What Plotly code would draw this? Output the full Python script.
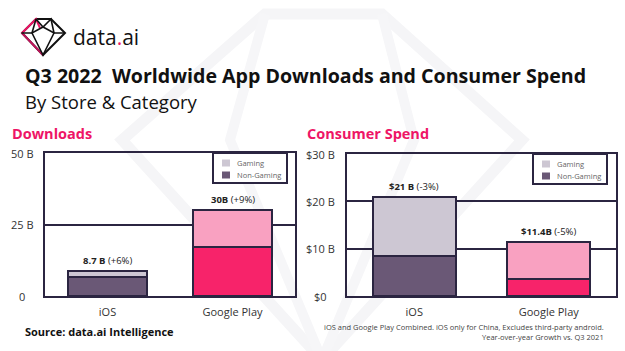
import plotly.graph_objects as go

# ---- data ----
stores = ["iOS", "Google Play"]
dl_non_gaming = [6.7, 17.2]
dl_gaming = [2.0, 12.8]
dl_labels = ["<b>8.7 B</b> (+6%)", "<b>30B</b> (+9%)"]
dl_ticks = [0, 25, 50]
dl_ticktext = ["0", "25 B", "50 B"]

sp_non_gaming = [8.5, 3.5]
sp_gaming = [12.5, 7.9]
sp_labels = ["<b>$21 B</b> (-3%)", "<b>$11.4B</b> (-5%)"]
sp_ticks = [0, 10, 20, 30]
sp_ticktext = ["$0", "$10 B", "$20 B", "$30 B"]

series_names = ["Gaming", "Non-Gaming"]

W, H = 625, 351
def px(x): return x / W
def py(y): return 1 - y / H

NAVY = "#2b2541"
PINK = "#ee1566"
FONT = "Open Sans"
col_ng = ["#6a5876", "#f7236a"]
col_g = ["#cdc7d3", "#f9a1c1"]
legend_cols = [col_g[0], col_ng[0]]

fig = go.Figure()

for xa, ya, ng, g, w in [("x", "y", dl_non_gaming, dl_gaming, 0.63), ("x2", "y2", sp_non_gaming, sp_gaming, 0.62)]:
    fig.add_trace(go.Bar(x=stores, y=ng, name="Non-Gaming", marker=dict(color=col_ng, line=dict(color=NAVY, width=2)),
                         width=w, xaxis=xa, yaxis=ya, showlegend=False, hoverinfo="skip"))
    fig.add_trace(go.Bar(x=stores, y=g, name="Gaming", marker=dict(color=col_g, line=dict(color=NAVY, width=2)),
                         width=w, xaxis=xa, yaxis=ya, showlegend=False, hoverinfo="skip"))

axis_common = dict(showline=True, linecolor=NAVY, linewidth=2, mirror=True, zeroline=False)

annotations = []
for i, s in enumerate(stores):
    annotations.append(dict(x=s, y=dl_non_gaming[i] + dl_gaming[i], xref="x", yref="y", text=dl_labels[i],
                            showarrow=False, yanchor="bottom", yshift=2, font=dict(family=FONT, size=9.5, color="#222")))
    annotations.append(dict(x=s, y=sp_non_gaming[i] + sp_gaming[i], xref="x2", yref="y2", text=sp_labels[i],
                            showarrow=False, yanchor="bottom", yshift=2, font=dict(family=FONT, size=9.5, color="#222")))
for v, t in zip(dl_ticks, dl_ticktext):
    annotations.append(dict(x=px(22), y=v, xref="paper", yref="y", text=t, showarrow=False, xanchor="center",
                            font=dict(family=FONT, size=11, color="#333")))
for v, t in zip(sp_ticks, sp_ticktext):
    annotations.append(dict(x=px(320), y=v, xref="paper", yref="y2", text=t, showarrow=False, xanchor="center",
                            font=dict(family=FONT, size=11, color="#333")))

# titles and texts
annotations += [
    dict(x=px(71), y=py(37), xref="paper", yref="paper", text="data<span style='color:%s'>.</span>ai" % PINK,
         showarrow=False, xanchor="left", yanchor="middle", font=dict(family=FONT, size=21, color="#111")),
    dict(x=px(23), y=py(76), xref="paper", yref="paper", text="<b>Q3 2022  Worldwide App Downloads and Consumer Spend</b>",
         showarrow=False, xanchor="left", yanchor="middle", font=dict(family=FONT, size=19.6, color="#111")),
    dict(x=px(23), y=py(101), xref="paper", yref="paper", text="By Store &amp; Category",
         showarrow=False, xanchor="left", yanchor="middle", font=dict(family=FONT, size=18.5, color="#111")),
    dict(x=px(10), y=py(133), xref="paper", yref="paper", text="<b>Downloads</b>",
         showarrow=False, xanchor="left", yanchor="middle", font=dict(family=FONT, size=14.5, color=PINK)),
    dict(x=px(305), y=py(133), xref="paper", yref="paper", text="<b>Consumer Spend</b>",
         showarrow=False, xanchor="left", yanchor="middle", font=dict(family=FONT, size=14.5, color=PINK)),
    dict(x=px(23), y=py(331), xref="paper", yref="paper", text="<b>Source: data.ai Intelligence</b>",
         showarrow=False, xanchor="left", yanchor="middle", font=dict(family=FONT, size=11, color="#111")),
    dict(x=px(606), y=py(332), xref="paper", yref="paper",
         text="iOS and Google Play Combined. iOS only for China, Excludes third-party android.<br>Year-over-year Growth vs. Q3 2021",
         showarrow=False, xanchor="right", yanchor="middle", align="right",
         font=dict(family=FONT, size=7.5, color="#444")),
]

def P(pts):
    return "M " + " L ".join("%f,%f" % (px(x), py(y)) for x, y in pts)

shapes = [
    # faint watermark gem
    dict(type="path", xref="paper", yref="paper", layer="below",
         path=P([(265, 14), (382, 14), (522, 140), (322, 360), (122, 140)]) + " Z",
         line=dict(color="#f5f5f7", width=11)),
    dict(type="path", xref="paper", yref="paper", layer="below",
         path=P([(265, 14), (230, 140), (322, 360), (414, 140), (382, 14)]), line=dict(color="#f6f6f8", width=10)),
    # logo gem
    dict(type="path", xref="paper", yref="paper",
         path=P([(36, 19), (51, 19), (65, 33), (43, 55), (22, 33)]) + " Z", line=dict(color="#111", width=2)),
    dict(type="path", xref="paper", yref="paper",
         path=P([(22, 33), (36, 19), (40, 28)]), line=dict(color=PINK, width=2)),
    dict(type="path", xref="paper", yref="paper",
         path=P([(22, 33), (43, 55)]), line=dict(color="#c0145a", width=2)),
    dict(type="path", xref="paper", yref="paper",
         path=P([(36, 19), (32, 33), (43, 55), (54, 33), (51, 19), (43, 27), (36, 19)]), line=dict(color="#111", width=1.6)),
    dict(type="path", xref="paper", yref="paper",
         path=P([(22, 33), (32, 33), (43, 27), (54, 33), (65, 33)]), line=dict(color="#111", width=1.6)),
]

# compact legends (box + swatches + labels) for both panels
for (x0, y0) in [(213, 153), (533, 154)]:
    shapes.append(dict(type="rect", xref="paper", yref="paper", x0=px(x0), x1=px(x0 + 74), y0=py(y0), y1=py(y0 + 30),
                       line=dict(color=NAVY, width=2), fillcolor="white"))
    for k, (nm, c) in enumerate(zip(series_names, legend_cols)):
        yc = y0 + 10 + 12 * k
        shapes.append(dict(type="rect", xref="paper", yref="paper", x0=px(x0 + 9), x1=px(x0 + 17),
                           y0=py(yc - 3.5), y1=py(yc + 3.5), line=dict(width=0), fillcolor=c))
        annotations.append(dict(x=px(x0 + 22), y=py(yc), xref="paper", yref="paper", text=nm, showarrow=False,
                                xanchor="left", yanchor="middle", font=dict(family=FONT, size=7.5, color="#666")))

fig.update_layout(
    width=W, height=H, margin=dict(l=0, r=0, t=0, b=0),
    paper_bgcolor="white", plot_bgcolor="rgba(0,0,0,0)",
    barmode="stack", showlegend=False,
    xaxis=dict(domain=[px(45), px(295)], anchor="y", range=[-0.5, 1.5], **axis_common, showgrid=False,
               tickfont=dict(family=FONT, size=11, color="#333"), ticks="", ticklabelstandoff=5),
    yaxis=dict(domain=[py(296), py(153)], anchor="x", range=[0, 50], **axis_common, tickvals=dl_ticks,
               showticklabels=False, gridcolor=NAVY, gridwidth=1.5, ticks=""),
    xaxis2=dict(domain=[px(347), px(616)], anchor="y2", range=[-0.5, 1.5], **axis_common, showgrid=False,
                tickfont=dict(family=FONT, size=11, color="#333"), ticks="", ticklabelstandoff=5),
    yaxis2=dict(domain=[py(296), py(154)], anchor="x2", range=[0, 30], **axis_common, tickvals=sp_ticks,
                showticklabels=False, gridcolor=NAVY, gridwidth=1.5, ticks=""),
    annotations=annotations, shapes=shapes,
)

fig.write_html("out.html")
